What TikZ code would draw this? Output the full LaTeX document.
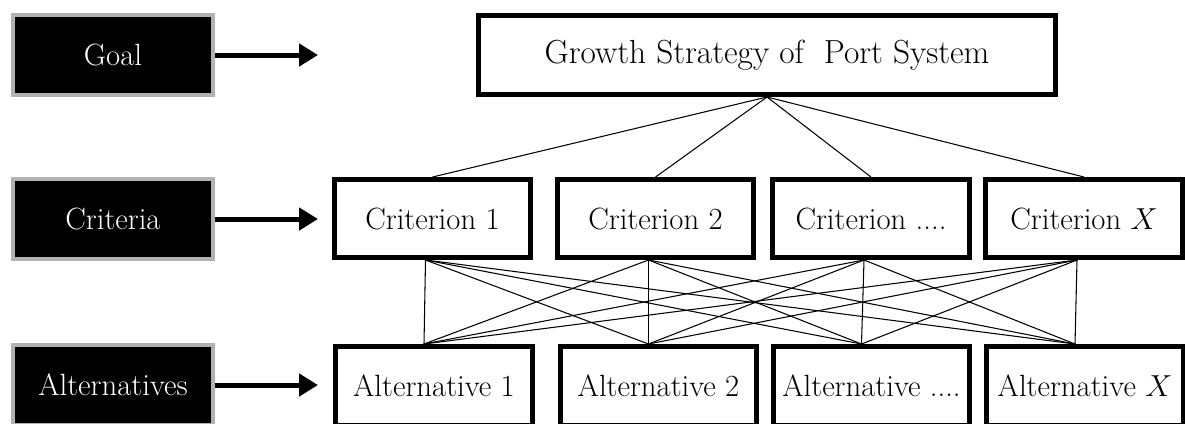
\documentclass[tikz,border=0pt]{standalone}
\usetikzlibrary{arrows.meta}
\tikzset{
	level/.style={fill=black, draw=black!30, line width=0.08cm, text=white, minimum width=4cm, minimum height=1.6cm, font=\fontsize{17.5}{20}\selectfont},
	item/.style={draw, line width=0.1cm, minimum width=3.94cm, minimum height=1.56cm, inner sep=0pt, font=\fontsize{17.5}{20}\selectfont},
	link/.style={line width=0.6pt},
	pointer/.style={line width=0.1cm, -{Triangle[length=0.38cm,width=0.44cm]}}
}
\begin{document}
\begin{tikzpicture}[x=0.02cm, y=-0.02cm]
	\useasboundingbox (0,0) rectangle (1185,423);
	%Levels
	\node[level] (goal) at (113,55) {Goal};
	\node[level] (crit) at (113,219) {Criteria};
	\node[level] (alt) at (113,385) {Alternatives};
	\coordinate (goaltip) at (318,55);
	\coordinate (crittip) at (318,219);
	\coordinate (alttip) at (318,385);
	\draw[pointer] (goal) -- (goaltip);
	\draw[pointer] (crit) -- (crittip);
	\draw[pointer] (alt) -- (alttip);
	
	%Goal
	\node[item, minimum width=11.54cm, minimum height=1.58cm, font=\fontsize{19}{22}\selectfont] (top) at (767,55) {Growth Strategy of\ \ Port System};
	
	%Criteria
	\node[item] (c1) at (432.5,218.5) {Criterion 1};
	\node[item] (c2) at (655.5,218.5) {Criterion 2};
	\node[item] (c3) at (871,218.5) {Criterion ....};
	\node[item] (c4) at (1084,218.5) {Criterion $X$};
	
	%Alternatives
	\node[item, minimum height=1.58cm] (a1) at (434,386) {Alternative 1};
	\node[item, minimum height=1.58cm] (a2) at (658.5,386) {Alternative 2};
	\node[item, minimum height=1.58cm] (a3) at (871.5,386) {Alternative ....};
	\node[item, minimum height=1.58cm] (a4) at (1085,386) {Alternative $X$};
	
	%Links
	\foreach \i in {1,...,4}
		\draw[link] (top.south) -- (c\i.north);
	\foreach \i in {1,...,4}
		\foreach \j in {1,...,4}
			\draw[link] ([xshift=-7*0.02cm]c\i.south) -- ([xshift=-10*0.02cm]a\j.north);
\end{tikzpicture}
\end{document}
